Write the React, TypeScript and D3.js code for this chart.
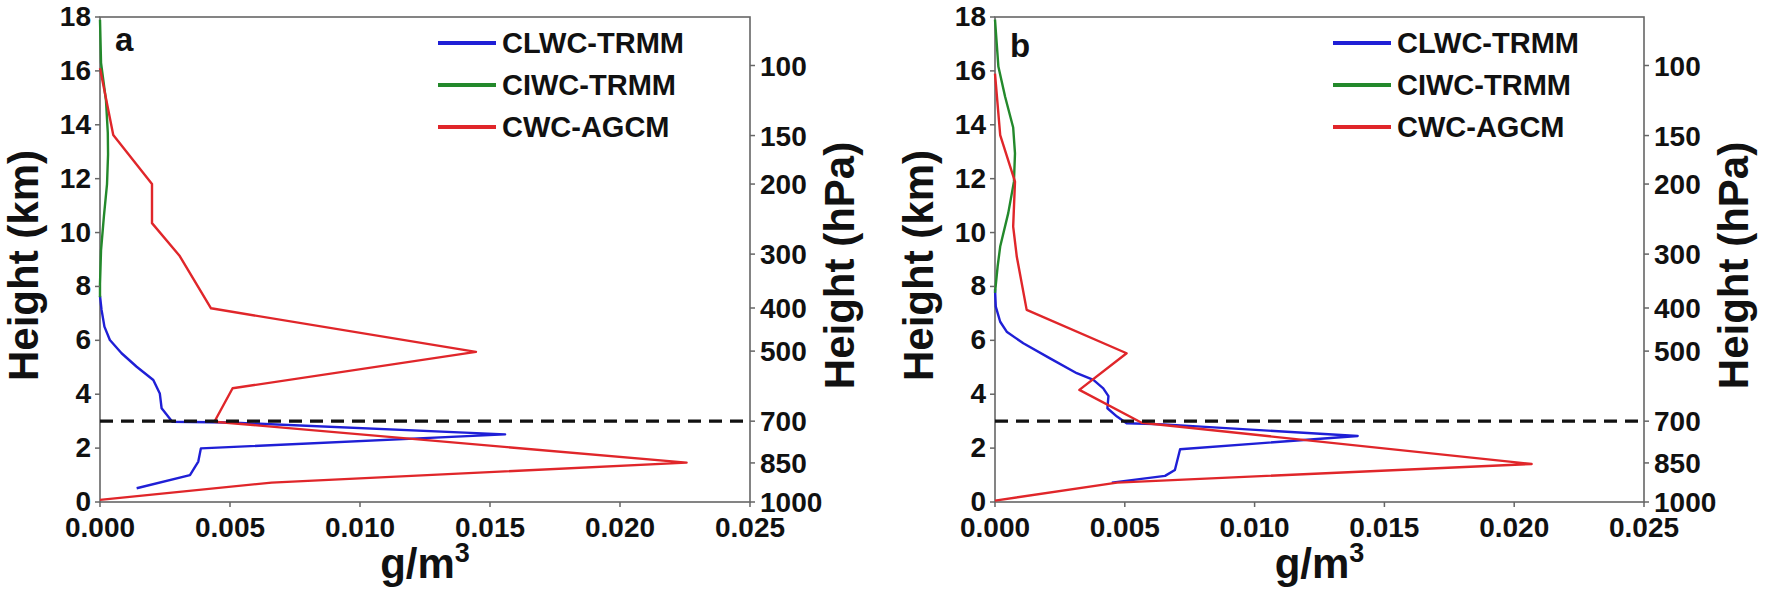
import React from "react";
import * as d3 from "d3";

// ---------- data: [value g/m3, height km] ----------
const clwcA: [number, number][] = [
  [0, 7.65], [0.00006, 7.13], [0.00017, 6.51], [0.00038, 6.01], [0.00083, 5.52],
  [0.00141, 5.02], [0.00205, 4.53], [0.0023, 4.03], [0.00237, 3.48], [0.00278, 2.98],
  [0.005, 2.95], [0.01558, 2.51], [0.00388, 1.99], [0.00378, 1.5], [0.00346, 1.0],
  [0.00141, 0.51],
];
const ciwcA: [number, number][] = [
  [0, 17.9], [0.00004, 16.3], [0.00023, 14.9], [0.0003, 13.7], [0.00031, 12.9],
  [0.00027, 11.8], [0.00015, 10.6], [0.00004, 9.35], [0, 8.1], [0, 7.6],
];
const cwcA: [number, number][] = [
  [0, 16.1], [0.00051, 13.62], [0.002, 11.8], [0.002, 10.35], [0.00305, 9.15],
  [0.00427, 7.19], [0.01446, 5.57], [0.0051, 4.22], [0.0044, 2.98], [0.02256, 1.46],
  [0.0066, 0.72], [0, 0.08],
];
const clwcB: [number, number][] = [
  [0, 7.9], [0.00003, 7.25], [0.0002, 6.69], [0.00045, 6.32], [0.00109, 5.89],
  [0.00212, 5.33], [0.00315, 4.78], [0.00379, 4.53], [0.00417, 4.22], [0.00437, 3.93],
  [0.00433, 3.48], [0.0047, 3.17], [0.00507, 2.92], [0.0065, 2.88], [0.01397, 2.45],
  [0.00713, 1.96], [0.00693, 1.19], [0.00655, 0.97], [0.0045, 0.72],
];
const ciwcB: [number, number][] = [
  [0, 17.9], [0.00013, 16.16], [0.00039, 15.04], [0.0007, 13.9], [0.00077, 12.94],
  [0.00073, 11.89], [0.00051, 10.72], [0.0002, 9.48], [0.0001, 8.73], [0, 7.76],
];
const cwcB: [number, number][] = [
  [0, 15.9], [0.0002, 13.62], [0.00077, 11.89], [0.0007, 10.22], [0.00084, 9.1],
  [0.00122, 7.13], [0.00507, 5.52], [0.00325, 4.16], [0.00565, 2.94], [0.02067, 1.41],
  [0.0047, 0.72], [0, 0.05],
];

const xTicks = [0, 0.005, 0.01, 0.015, 0.02, 0.025];
const yTicks = [0, 2, 4, 6, 8, 10, 12, 14, 16, 18];
const pressureLabels = ["100", "150", "200", "300", "400", "500", "700", "850", "1000"];
const pressureHeights = [16.2, 13.6, 11.8, 9.2, 7.2, 5.6, 3.0, 1.45, 0];
const seriesNames = ["CLWC-TRMM", "CIWC-TRMM", "CWC-AGCM"];
const seriesColors = ["#1f1fd6", "#23892b", "#e0262a"];
const meltingLevel = 3;

const FONT = "'Liberation Sans', Arial, sans-serif";

type PanelProps = {
  left: number;
  right: number;
  label: string;
  labelY: number;
  data: [number, number][][];
};

function Panel({ left, right, label, labelY, data }: PanelProps) {
  const top = 17;
  const bottom = 502;
  const x = d3.scaleLinear().domain([0, 0.025]).range([left, right]);
  const y = d3.scaleLinear().domain([0, 18]).range([bottom, top]);
  const line = d3
    .line<[number, number]>()
    .x((d) => x(d[0]))
    .y((d) => y(d[1]));
  const legX = left + 338;
  const legRows = [43, 85, 127];
  const midY = (top + bottom) / 2 + 6;
  return (
    <g fontFamily={FONT} fontWeight="bold" fill="#111">
      {/* frame */}
      <rect x={left} y={top} width={right - left} height={bottom - top} fill="none" stroke="#666" strokeWidth={1.6} />
      {/* data */}
      {data.map((d, i) => (
        <path key={i} d={line(d) || ""} fill="none" stroke={seriesColors[i]} strokeWidth={2.4} strokeLinejoin="round" />
      ))}
      {/* melting level */}
      <line x1={x(0)} x2={x(0.025)} y1={y(meltingLevel)} y2={y(meltingLevel)} stroke="#111" strokeWidth={3.2} strokeDasharray="13 8" />
      {/* left ticks */}
      {yTicks.map((t) => (
        <g key={"y" + t}>
          <line x1={left - 5} x2={left} y1={y(t)} y2={y(t)} stroke="#666" strokeWidth={1.5} />
          <text x={left - 9} y={y(t) + 9} fontSize={28} textAnchor="end">{t}</text>
        </g>
      ))}
      {/* bottom ticks */}
      {xTicks.map((t) => (
        <g key={"x" + t}>
          <line x1={x(t)} x2={x(t)} y1={bottom} y2={bottom + 5} stroke="#666" strokeWidth={1.5} />
          <text x={x(t)} y={bottom + 35} fontSize={28} textAnchor="middle">{d3.format(".3f")(t)}</text>
        </g>
      ))}
      {/* right pressure ticks */}
      {pressureHeights.map((h, i) => (
        <g key={"p" + i}>
          <line x1={right} x2={right + 5} y1={y(h)} y2={y(h)} stroke="#666" strokeWidth={1.5} />
          <text x={right + 10} y={y(h) + 10} fontSize={28} textAnchor="start">{pressureLabels[i]}</text>
        </g>
      ))}
      {/* axis titles */}
      <text transform={`translate(${left - 62},${midY}) rotate(-90)`} fontSize={42} textAnchor="middle">Height (km)</text>
      <text transform={`translate(${right + 104},${midY}) rotate(-90)`} fontSize={42} textAnchor="middle">Height (hPa)</text>
      <text x={(left + right) / 2} y={578} fontSize={42} textAnchor="middle">
        g/m<tspan dy={-16} fontSize={27}>3</tspan>
      </text>
      {/* panel label */}
      <text x={left + 15} y={labelY} fontSize={33}>{label}</text>
      {/* legend */}
      {seriesNames.map((n, i) => (
        <g key={n}>
          <line x1={legX} x2={legX + 58} y1={legRows[i]} y2={legRows[i]} stroke={seriesColors[i]} strokeWidth={4} />
          <text x={legX + 64} y={legRows[i] + 10} fontSize={29}>{n}</text>
        </g>
      ))}
    </g>
  );
}

export default function App() {
  return (
    <svg
      width={1770}
      height={594}
      viewBox="0 0 1770 594"
      style={{ position: "absolute", left: 0, top: 0, background: "#fff" }}
    >
      <rect x={0} y={0} width={1770} height={594} fill="#fff" />
      <Panel left={100} right={750} label="a" labelY={51} data={[clwcA, ciwcA, cwcA]} />
      <Panel left={995} right={1644} label="b" labelY={57} data={[clwcB, ciwcB, cwcB]} />
    </svg>
  );
}
